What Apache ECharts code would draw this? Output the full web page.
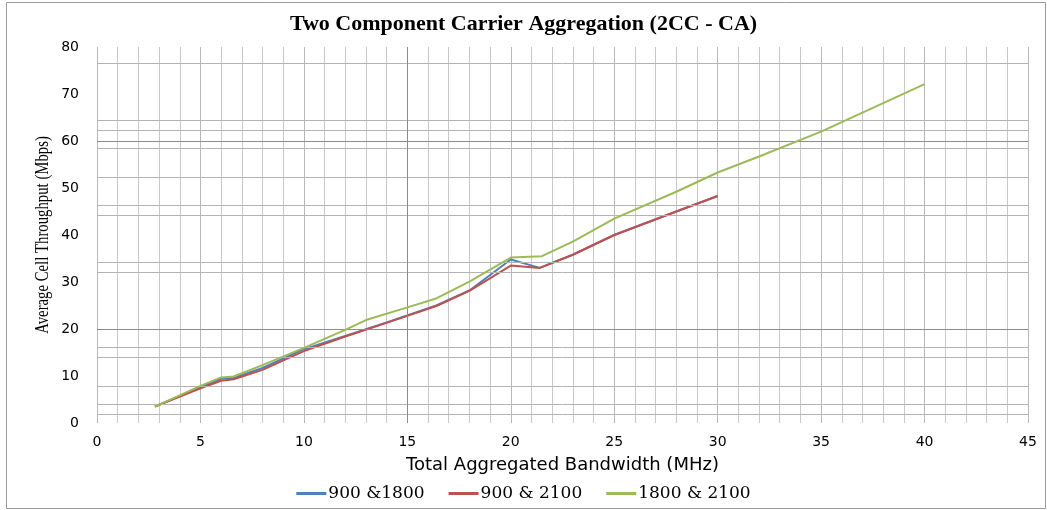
<!DOCTYPE html>
<html>
<head>
<meta charset="utf-8">
<script src="https://cdn.jsdelivr.net/npm/echarts@6/dist/echarts.min.js"></script>
<style>
  html, body { margin: 0; padding: 0; background: #fff; }
  #chart { width: 1047px; height: 510px; }
</style>
</head>
<body>
<div id="chart"></div>
<script>
// bandwidth (MHz) and throughput (Mbps)
const bw900_1800 = [2.8, 5, 6, 6.6, 8, 10, 12, 14, 16.4, 18, 20, 21.4, 23, 25, 28, 30]
const tp900_1800 = [3.5, 7.6, 9.4, 9.6, 11.7, 15.7, 18.5, 21.4, 25.0, 28.2, 34.8, 33.0, 35.8, 40.0, 45.0, 48.3]

const bw900_2100 = [2.8, 5, 6, 6.6, 8, 10, 12, 14, 16.4, 18, 20, 21.4, 23, 25, 28, 30]
const tp900_2100 = [3.5, 7.4, 9.0, 9.3, 11.3, 15.3, 18.4, 21.3, 24.9, 28.1, 33.5, 33.0, 35.8, 40.0, 45.0, 48.3]

const bw1800_2100 = [2.8, 5, 6, 6.6, 8, 10, 12, 13, 15, 16.4, 18, 20, 21.5, 23, 25, 28, 30, 32, 35, 40]
const tp1800_2100 = [3.5, 7.9, 9.7, 9.9, 12.3, 16.0, 19.8, 21.9, 24.6, 26.5, 30.1, 35.2, 35.5, 38.6, 43.5, 49.2, 53.3, 56.7, 62.0, 72.1]

const seriesNames = ['900 &1800', '900 & 2100', '1800 & 2100']
const seriesColors = ['#4f81bd', '#c0504d', '#9bbb59']

// the odd horizontal gridlines of the original sheet
const hGrid = [1.9, 4.0, 7.9, 14.0, 16.1, 32.1, 34.2, 44.2, 46.3, 52.3, 58.5, 62.3, 64.5, 76.5]
const hGridDark = [20, 60]
const vGridDark = [15]

const pairs = (xs, ys) => xs.map((x, i) => [x, ys[i]])

const myChart = echarts.init(document.getElementById('chart'))

const lineSeries = (name, data, color, z) => ({
  name: name,
  type: 'line',
  data: data,
  symbol: 'none',
  z: z,
  lineStyle: { color: color, width: 2 },
  itemStyle: { color: color }
})

myChart.setOption({
  animation: false,
  title: {
    text: 'Two Component Carrier Aggregation (2CC - CA)',
    left: 'center',
    top: 8,
    textStyle: { fontFamily: 'Liberation Serif', fontWeight: 'bold', fontSize: 22, color: '#000' }
  },
  legend: {
    data: seriesNames,
    bottom: 3,
    left: 'center',
    icon: 'rect',
    itemWidth: 30,
    itemHeight: 3,
    itemGap: 24,
    textStyle: { fontFamily: 'DejaVu Serif', fontSize: 17, color: '#000', padding: [0, 0, 0, -3] }
  },
  grid: { left: 97, right: 19, top: 47, bottom: 87 },
  xAxis: {
    type: 'value',
    min: 0,
    max: 45,
    interval: 5,
    name: 'Total Aggregated Bandwidth (MHz)',
    nameLocation: 'middle',
    nameGap: 33,
    nameTextStyle: { fontFamily: 'DejaVu Sans', fontSize: 18, color: '#000' },
    axisLine: { show: false },
    axisTick: { show: false },
    axisLabel: { fontFamily: 'DejaVu Sans', fontSize: 14, color: '#000', margin: 12 },
    splitLine: { show: true, lineStyle: { color: '#b8b8b8', width: 1 } },
    minorTick: { show: false, splitNumber: 5 },
    minorSplitLine: { show: true, lineStyle: { color: '#c8c8c8', width: 1 } }
  },
  yAxis: {
    type: 'value',
    min: 0,
    max: 80,
    interval: 10,
    axisLine: { show: false },
    axisTick: { show: false },
    axisLabel: { fontFamily: 'DejaVu Sans', fontSize: 14, color: '#000', margin: 18 },
    splitLine: { show: false }
  },
  graphic: [
    {
      type: 'rect',
      shape: { x: 6.5, y: 2.5, width: 1039, height: 506 },
      style: { fill: 'none', stroke: '#9a9a9a', lineWidth: 1 },
      silent: true
    },
    {
      // y axis title, narrow and tall like the original
      type: 'text',
      x: 43,
      y: 235,
      rotation: Math.PI / 2,
      scaleX: 0.82,
      style: {
        text: 'Average Cell Throughput (Mbps)',
        font: '18px "Liberation Serif"',
        fill: '#000',
        align: 'center',
        verticalAlign: 'middle'
      },
      silent: true
    }
  ],
  series: [
    {
      name: 'grid',
      type: 'line',
      data: [],
      silent: true,
      markLine: {
        symbol: 'none',
        silent: true,
        label: { show: false },
        data: hGrid.map(v => ({ yAxis: v, lineStyle: { color: '#b4b4b4', width: 1, type: 'solid' } }))
          .concat(hGridDark.map(v => ({ yAxis: v, lineStyle: { color: '#8c8c8c', width: 1, type: 'solid' } })))
          .concat(vGridDark.map(v => ({ xAxis: v, lineStyle: { color: '#8c8c8c', width: 1, type: 'solid' } })))
      }
    },
    lineSeries(seriesNames[0], pairs(bw900_1800, tp900_1800), seriesColors[0], 3),
    lineSeries(seriesNames[1], pairs(bw900_2100, tp900_2100), seriesColors[1], 4),
    lineSeries(seriesNames[2], pairs(bw1800_2100, tp1800_2100), seriesColors[2], 5)
  ]
})
</script>
</body>
</html>
